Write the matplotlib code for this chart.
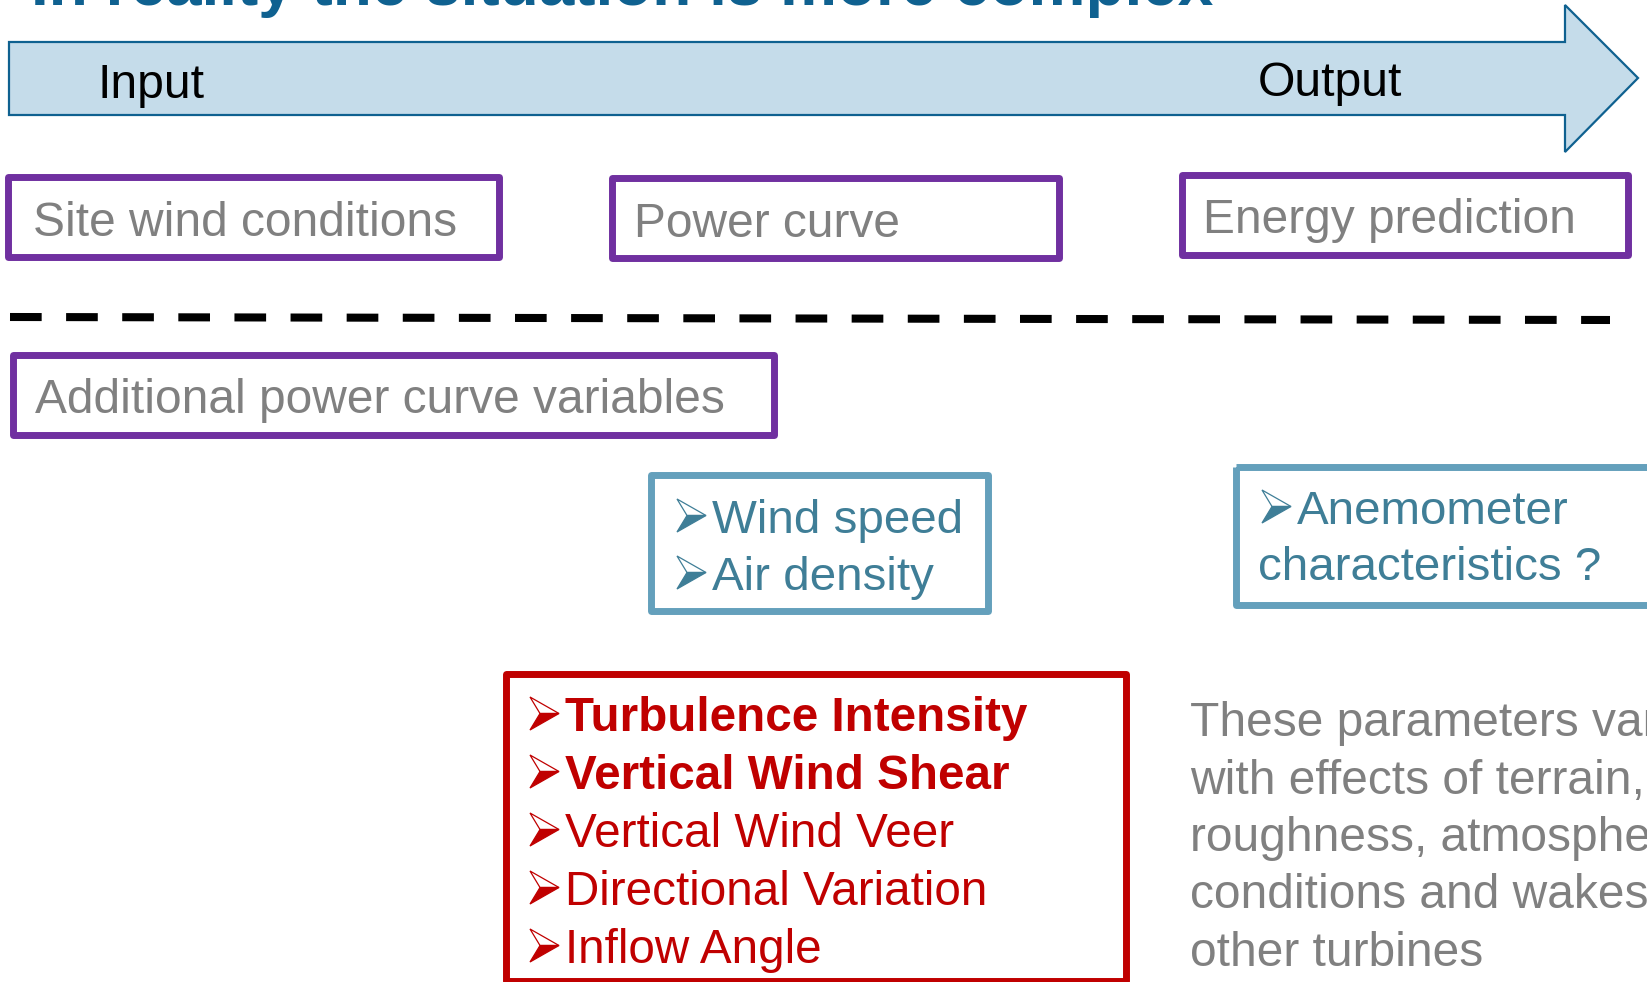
import matplotlib
matplotlib.use("Agg")
import matplotlib.pyplot as plt
from matplotlib.patches import Polygon, Rectangle

plt.rcParams['font.family'] = ['Liberation Sans', 'DejaVu Sans']
plt.rcParams['lines.scale_dashes'] = False

# texts of the diagram
title = "In reality the situation is more complex"
flow_labels = ["Input", "Output"]
top_boxes = ["Site wind conditions", "Power curve", "Energy prediction"]
extra_box = "Additional power curve variables"
basic_vars = ["Wind speed", "Air density"]
anemo_lines = ["Anemometer", "characteristics ?"]
red_vars = ["Turbulence Intensity", "Vertical Wind Shear", "Vertical Wind Veer",
            "Directional Variation", "Inflow Angle"]
red_bold = [True, True, False, False, False]
note_lines = ["These parameters vary", "with effects of terrain, surface",
              "roughness, atmospheric", "conditions and wakes of", "other turbines"]

BLUE_T = "#0F6190"
ARROW_FILL = "#C5DCEA"
PURPLE = "#7030A0"
GRAY = "#808080"
TEAL = "#64A0BC"
TEAL_T = "#3F7E97"
RED = "#C00000"

W, H = 1647, 982
fig = plt.figure(figsize=(W / 100, H / 100), dpi=100)
ax = fig.add_axes([0, 0, 1, 1])
ax.set_xlim(0, W)
ax.set_ylim(H, 0)
ax.axis('off')
renderer = fig.canvas.get_renderer()


def put(x, y, s, width=None, size=30, **kw):
    t = ax.text(x, y, s, fontsize=size, va='baseline', ha='left', **kw)
    if width is not None:
        bb = t.get_window_extent(renderer)
        t.set_fontsize(size * width / bb.width)
    return t


def fitsize(s, width, **kw):
    t = ax.text(0, 0, s, fontsize=30, **kw)
    w = t.get_window_extent(renderer).width
    t.remove()
    return 30 * width / w


def box(x0, y0, x1, y1, color, lw=5):
    ax.add_patch(Rectangle((x0, y0), x1 - x0, y1 - y0, fill=False, edgecolor=color,
                           linewidth=lw, joinstyle='round'))


def bullet(x, base, color, w=29, h=33):
    # wingdings-like arrowhead: light upper half, solid lower half
    top, bot = base - 1 - h, base - 1
    mid = (top + bot) / 2
    ax.add_patch(Polygon([(x, top), (x + w, mid), (x + 10, mid)], closed=True,
                         facecolor='white', edgecolor=color, linewidth=0.9))
    ax.add_patch(Polygon([(x + 10, mid), (x + w, mid), (x, bot)], closed=True,
                         facecolor=color, edgecolor=color, linewidth=0.9))


# title (cut at the top)
put(31, 5, title, width=1182, color=BLUE_T, fontweight='bold')

# big arrow
arrow = Polygon([(9, 42), (1565, 42), (1565, 5), (1638, 78), (1565, 152),
                 (1565, 115), (9, 115)], closed=True, facecolor=ARROW_FILL,
                edgecolor=BLUE_T, linewidth=1.6, joinstyle='miter')
ax.add_patch(arrow)
fs = fitsize(flow_labels[1], 144)
put(97, 98, flow_labels[0], size=fs, color='black')
put(1258, 96, flow_labels[1], size=fs, color='black')

# purple boxes
fs = fitsize(extra_box, 688)
box_pos = [(8, 177, 499, 257), (612, 178, 1059, 258), (1182, 175, 1628, 255)]
text_pos = [(33, 236), (634, 237), (1203, 233)]
for s, b, p in zip(top_boxes, box_pos, text_pos):
    box(*b, PURPLE)
    put(p[0], p[1], s, size=fs, color=GRAY)

ax.plot([10, 1610], [317, 320], color='black', linewidth=5.8,
        dashes=(22.8, 17.6), solid_capstyle='butt', dash_capstyle='butt')

box(13, 355, 774, 435, PURPLE)
put(35, 413, extra_box, size=fs, color=GRAY)

# teal boxes
fs = fitsize(basic_vars[0], 250)
box(651, 475, 988, 611, TEAL)
for i, s in enumerate(basic_vars):
    y = 533 + i * 57
    bullet(677, y, TEAL_T)
    put(712, y, s, size=fs, color=TEAL_T)

box(1236, 467, 1665, 605, TEAL)
bullet(1262, 524, TEAL_T)
put(1297, 524, anemo_lines[0], size=fs, color=TEAL_T)
put(1258, 580, anemo_lines[1], size=fs, color=TEAL_T)

# red box
fs = fitsize(red_vars[2], 389)
box(506, 674, 1126, 981, RED)
for i, (s, b) in enumerate(zip(red_vars, red_bold)):
    y = 731 + i * 58
    bullet(530, y, RED)
    put(565, y, s, size=fs, color=RED, fontweight='bold' if b else 'normal')

# side note
fs = fitsize(note_lines[1].split(" surface")[0], 454)
for i, s in enumerate(note_lines):
    put(1190, 736 + i * 57.5, s, size=fs, color=GRAY)

fig.savefig("out.png", dpi=100)
